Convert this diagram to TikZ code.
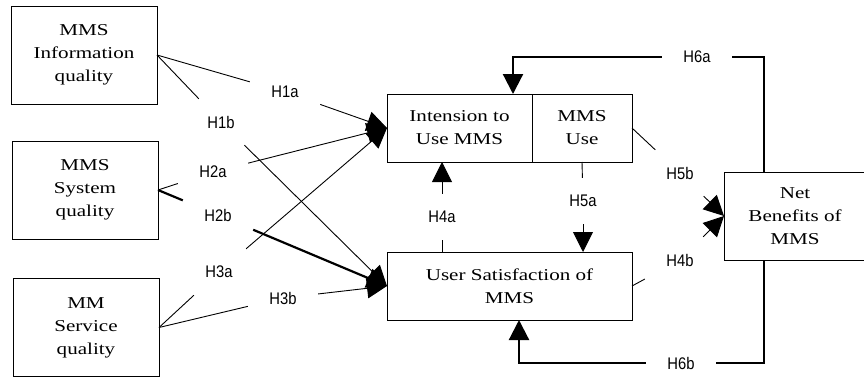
\documentclass[tikz,border=0pt]{standalone}
\usepackage{fontspec}
\usepackage{tikz}
\usetikzlibrary{arrows.meta,positioning}
\newfontfamily\factorfont[FakeStretch=1.27]{Liberation Serif}
\newfontfamily\hypfont[FakeStretch=0.88]{Liberation Sans}
\tikzset{
  cbox/.style={draw,line width=1pt,inner sep=0pt,outer sep=0pt,align=center,
    font=\factorfont\fontsize{16.6}{23}\selectfont},
  factor/.style={cbox,minimum width=146pt,minimum height=98pt},
  construct/.style={cbox,minimum height=68pt},
  hlab/.style={inner sep=0pt,minimum width=70pt,minimum height=46pt,
    font=\hypfont\fontsize{16.8}{20}\selectfont},
  link/.style={line width=0.9pt},
  feed/.style={line width=2.2pt},
  tip/.style={-{Triangle[length=20pt,width=20pt]}}
}
\begin{document}
\begin{tikzpicture}[x=1pt,y=-1pt]
  \useasboundingbox (0,0) rectangle (864,378);
  % success factors on the left
  \node[factor] (info) at (84,55) {MMS\\Information\\quality};
  \node[factor] (sys) at (85,190) {MMS\\System\\quality};
  \node[factor] (serv) at (86,327.5) {MM\\Service\\quality};
  % use, satisfaction and benefits
  \node[construct,minimum width=145pt] (intent) at (459.5,128) {Intension to\\Use MMS};
  \node[construct,minimum width=100pt,right=0pt of intent] (use) {MMS\\Use};
  \node[construct,minimum width=245pt] (satisf) at (509.5,286) {User Satisfaction of\\MMS};
  \node[cbox,minimum width=142pt,minimum height=88pt] (net) at (795,216) {Net\\Benefits of\\MMS};
  % hypothesis labels
  \node[hlab] (h1a) at (285,92) {H1a};
  \node[hlab] (h1b) at (221,122) {H1b};
  \node[hlab] (h2a) at (213,172) {H2a};
  \node[hlab] (h2b) at (218,215) {H2b};
  \node[hlab] (h3a) at (219,272) {H3a};
  \node[hlab] (h3b) at (283,298) {H3b};
  \node[hlab] (h4a) at (442,217) {H4a};
  \node[hlab] (h5a) at (583,201) {H5a};
  \node[hlab] (h5b) at (680,173) {H5b};
  \node[hlab] (h4b) at (680,260) {H4b};
  \node[hlab] (h6a) at (697,57) {H6a};
  \node[hlab] (h6b) at (681,363) {H6b};
  % paths from the factors
  \draw[link] (info.east) -- (h1a);
  \draw[link,tip] (h1a) -- (intent.west);
  \draw[link] (info.east) -- (h1b);
  \draw[link,tip] (h1b) -- (satisf.west);
  \draw[link] (sys.east) -- (h2a);
  \draw[link,tip] (h2a) -- (intent.west);
  \draw[feed] (sys.east) -- (h2b);
  \draw[feed,tip] (h2b) -- (satisf.west);
  \draw[link] (serv.east) -- (h3a);
  \draw[link,tip] (h3a) -- (intent.west);
  \draw[link] (serv.east) -- (h3b);
  \draw[link,tip] (h3b) -- (satisf.west);
  % between the middle constructs
  \draw[link] (h4a |- satisf.north) -- (h4a);
  \draw[link,tip] (h4a) -- (h4a |- intent.south);
  \draw[link] (use.south) -- (h5a);
  \draw[link,tip] (h5a) -- (h5a |- satisf.north);
  \draw[link] (use.east) -- (h5b);
  \draw[link,tip] (h5b) -- (net.west);
  \draw[link] (satisf.east) -- (h4b);
  \draw[link,tip] (h4b) -- (net.west);
  % feedback loops from net benefits
  \draw[feed] ([xshift=40pt]net.north west) |- (h6a);
  \draw[feed,tip] (h6a) -| ([xshift=53.5pt]intent.north);
  \draw[feed] ([xshift=40pt]net.south west) |- (h6b);
  \draw[feed,tip] (h6b) -| ([xshift=9.5pt]satisf.south);
\end{tikzpicture}
\end{document}
